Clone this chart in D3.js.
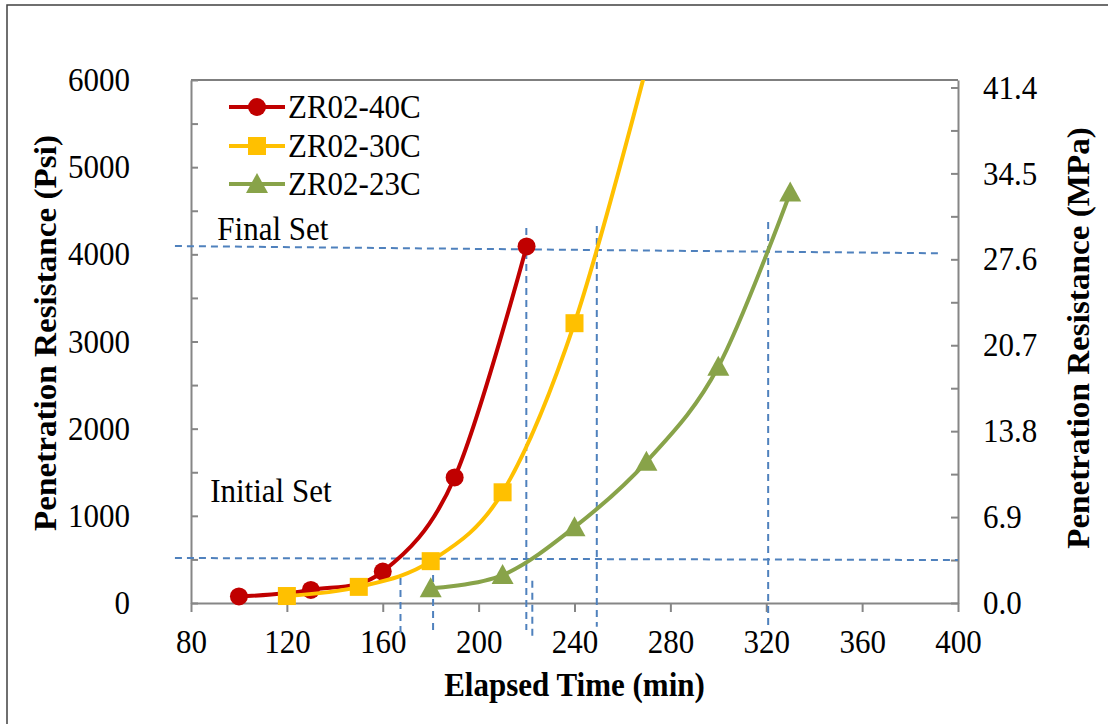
<!DOCTYPE html>
<html>
<head>
<meta charset="utf-8">
<script src="https://cdn.jsdelivr.net/npm/d3@7"></script>
<style>
  body { margin: 0; background: #fff; }
  svg text { font-family: "Liberation Serif", "Times New Roman", Tinos, "DejaVu Serif", serif !important; fill: #000; }
</style>
</head>
<body>
<div id="chart"></div>
<script>
// series: elapsed time (min) vs penetration resistance (psi)
const time40 = [100, 130, 160, 190, 220];
const psi40 = [75, 150, 360, 1440, 4090];
const time30 = [120, 150, 180, 210, 240, 270];
const psi30 = [80, 185, 480, 1270, 3210, 6150];
const time23 = [180, 210, 240, 270, 300, 330];
const psi23 = [170, 320, 870, 1620, 2710, 4710];
const seriesNames = ["ZR02-40C", "ZR02-30C", "ZR02-23C"];

const xTicks = [80, 120, 160, 200, 240, 280, 320, 360, 400];
const yTicks = d3.range(0, 6001, 500);
const mpaTicks = d3.range(0, 13).map(i => +(i * 3.45).toFixed(2));

// hand-drawn set-time guide lines, in data units [x1, y1, x2, y2]
const setLinesH = [[73.3, 4095, 392, 4012], [73.3, 516, 400, 493]];
const setLinesV = [
  [167.4, 287, 167.4, -401],
  [181.0, 321, 181.0, -356],
  [219.9, 4302, 219.9, -310],
  [222.4, 256, 222.4, -424],
  [249.3, 4325, 249.3, -272],
  [320.8, 4371, 320.8, -287]
];
const setLabels = [["Final Set", 91, 4170], ["Initial Set", 88, 1160]];

const W = 1108, H = 724;
const m = { left: 191, right: 150, top: 80, bottom: 121 };
const FS = 31, SY = 1.07;

const svg = d3.select("#chart").append("svg")
  .attr("width", W).attr("height", H);

svg.append("rect")
  .attr("x", 7).attr("y", 5)
  .attr("width", W).attr("height", H)
  .attr("fill", "none").attr("stroke", "#404040").attr("stroke-width", 1.5);

const x = d3.scaleLinear().domain([80, 400]).range([m.left, W - m.right]);
const y = d3.scaleLinear().domain([0, 6000]).range([H - m.bottom, m.top]);
const y2 = d3.scaleLinear().domain([0, 42]).range([H - m.bottom, m.top]);

svg.append("clipPath").attr("id", "clip")
  .append("rect")
  .attr("x", m.left - 15).attr("y", m.top)
  .attr("width", x(400) - m.left + 30).attr("height", y(0) - m.top + 15);

// plot frame top
svg.append("line")
  .attr("x1", m.left).attr("x2", x(400))
  .attr("y1", m.top).attr("y2", m.top)
  .attr("stroke", "#7f7f7f").attr("stroke-width", 2);

function styleAxis(g) {
  g.attr("font-family", null);
  g.select(".domain").attr("stroke", "#868686").attr("stroke-width", 2);
  g.selectAll(".tick line").attr("stroke", "#868686").attr("stroke-width", 2);
  g.selectAll("text").attr("font-size", FS)
    .attr("transform", `scale(1,${SY})`);
}

svg.append("g")
  .attr("transform", `translate(0,${y(0)})`)
  .call(d3.axisBottom(x).tickValues(xTicks).tickSizeInner(9).tickSizeOuter(0).tickPadding(16))
  .call(styleAxis);

svg.append("g")
  .attr("transform", `translate(${m.left},0)`)
  .call(d3.axisLeft(y).tickValues(yTicks).tickSizeInner(-7).tickSizeOuter(0).tickPadding(61)
    .tickFormat(d => d % 1000 === 0 ? d : ""))
  .call(styleAxis);

svg.append("g")
  .attr("transform", `translate(${x(400)},0)`)
  .call(d3.axisRight(y2).tickValues(mpaTicks).tickSizeInner(-7).tickSizeOuter(0).tickPadding(25)
    .tickFormat((d, i) => i % 2 === 0 ? d3.format(".1f")(d) : ""))
  .call(styleAxis);

// axis titles
svg.append("text")
  .attr("transform", `translate(${(m.left + x(400)) / 2},${H - 28}) scale(1,${SY})`)
  .attr("text-anchor", "middle").attr("font-size", FS).attr("font-weight", "bold")
  .text("Elapsed Time (min)");

svg.append("text")
  .attr("transform", `translate(56,333) rotate(-90) scale(${SY},1)`)
  .attr("text-anchor", "middle").attr("font-size", FS).attr("font-weight", "bold")
  .text("Penetration Resistance (Psi)");

svg.append("text")
  .attr("transform", `translate(1089,338) rotate(-90) scale(${SY},1)`)
  .attr("text-anchor", "middle").attr("font-size", FS).attr("font-weight", "bold")
  .text("Penetration Resistance (MPa)");

// guide lines
const guide = svg.append("g")
  .attr("stroke", "#4f81bd").attr("stroke-width", 2).attr("stroke-dasharray", "7,5");
guide.selectAll("line")
  .data(setLinesH.concat(setLinesV))
  .join("line")
  .attr("x1", d => x(d[0])).attr("y1", d => y(d[1]))
  .attr("x2", d => x(d[2])).attr("y2", d => y(d[3]));

svg.selectAll("text.setlabel")
  .data(setLabels)
  .join("text")
  .attr("class", "setlabel")
  .attr("transform", d => `translate(${x(d[1])},${y(d[2])}) scale(1,${SY})`)
  .attr("font-size", FS)
  .text(d => d[0]);

// series
const colors = ["#c00000", "#ffc000", "#88a349"];
const series = [
  time40.map((t, i) => [t, psi40[i]]),
  time30.map((t, i) => [t, psi30[i]]),
  time23.map((t, i) => [t, psi23[i]])
];

const line = d3.line()
  .x(d => x(d[0])).y(d => y(d[1]))
  .curve(d3.curveCatmullRom.alpha(0));

function marker(sel, k, c) {
  if (k === 0) sel.append("circle").attr("r", 9).attr("fill", c);
  else if (k === 1) sel.append("rect").attr("x", -9).attr("y", -9).attr("width", 18).attr("height", 18).attr("fill", c);
  else sel.append("path").attr("d", "M0,-11L11,9L-11,9Z").attr("fill", c);
}

const plot = svg.append("g").attr("clip-path", "url(#clip)");
series.forEach((s, k) => {
  plot.append("path")
    .datum(s)
    .attr("d", line)
    .attr("fill", "none")
    .attr("stroke", colors[k])
    .attr("stroke-width", 4);
  s.forEach(p => {
    const g = plot.append("g").attr("transform", `translate(${x(p[0])},${y(p[1])})`);
    marker(g, k, colors[k]);
  });
});

// legend
const legend = svg.append("g");
seriesNames.forEach((name, k) => {
  const ly = [107, 146, 184][k];
  const g = legend.append("g").attr("transform", `translate(229,${ly})`);
  g.append("line").attr("x1", 0).attr("x2", 56).attr("stroke", colors[k]).attr("stroke-width", 4);
  marker(g.append("g").attr("transform", "translate(28,0)"), k, colors[k]);
  g.append("text")
    .attr("x", 59).attr("dy", "0.34em")
    .attr("transform", `scale(1,${SY})`)
    .attr("font-size", FS)
    .text(name);
});
</script>
</body>
</html>
